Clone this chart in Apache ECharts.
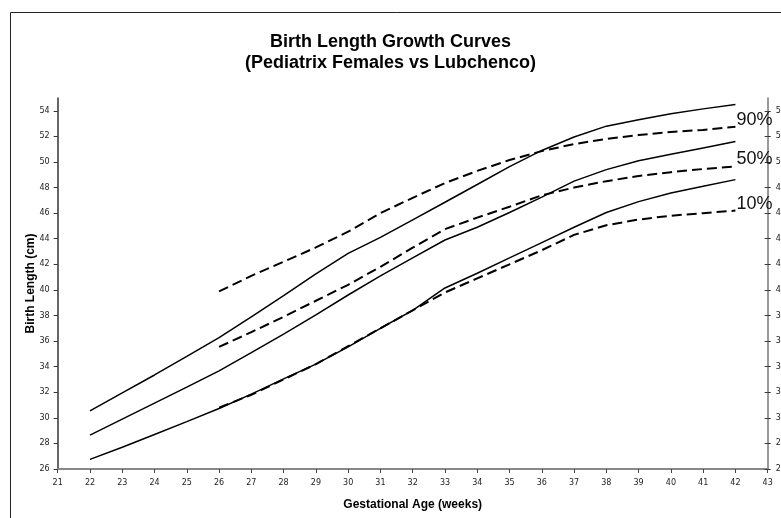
<!DOCTYPE html>
<html>
<head>
<meta charset="utf-8">
<script src="https://cdn.jsdelivr.net/npm/echarts@6/dist/echarts.min.js"></script>
<style>
html,body{margin:0;padding:0;background:#fff;overflow:hidden;}
#chart{width:781px;height:518px;}
</style>
</head>
<body>
<div id="chart"></div>
<script>
// Gestational weeks
const weeks = [22,23,24,25,26,27,28,29,30,31,32,33,34,35,36,37,38,39,40,41,42];
const lubWeeks = [26,27,28,29,30,31,32,33,34,35,36,37,38,39,40,41,42];

// Pediatrix females (solid)
const pedP10 = [26.75,27.7,28.7,29.7,30.73,31.85,33.05,34.2,35.55,37.0,38.4,40.15,41.3,42.5,43.7,44.9,46.05,46.9,47.58,48.1,48.62];
const pedP50 = [28.65,29.9,31.15,32.4,33.67,35.1,36.55,38.05,39.6,41.1,42.5,43.9,44.9,46.05,47.25,48.5,49.4,50.1,50.6,51.1,51.6];
const pedP90 = [30.55,31.95,33.35,34.8,36.27,37.9,39.55,41.25,42.85,44.1,45.47,46.85,48.24,49.64,50.9,51.95,52.8,53.3,53.77,54.15,54.5];

// Lubchenco (dashed)
const lubP10 = [30.8,31.8,33.0,34.2,35.6,37.0,38.4,39.8,40.9,42.0,43.1,44.3,45.05,45.5,45.8,46.0,46.2];
const lubP50 = [35.54,36.7,37.9,39.15,40.4,41.8,43.3,44.75,45.65,46.5,47.4,48.0,48.5,48.9,49.2,49.45,49.65];
const lubP90 = [39.88,41.1,42.2,43.32,44.55,46.0,47.2,48.35,49.3,50.15,50.85,51.4,51.8,52.1,52.35,52.5,52.75];

// Axis ticks
const yTicks = [26,28,30,32,34,36,38,40,42,44,46,48,50,52,54];
const pctLabels = ['10%','50%','90%'];

const titleText = 'Birth Length Growth Curves\n(Pediatrix Females vs Lubchenco)';
const xName = 'Gestational Age (weeks)';
const yName = 'Birth Length (cm)';

function zip(xs, ys){ return xs.map((x,i)=>[x, ys[i]]); }

const chart = echarts.init(document.getElementById('chart'), null, {renderer:'canvas'});

const solidStyle = {color:'#000', width:1.5, type:'solid'};
const dashStyle = {color:'#000', width:2, type:[10,5]};

function solidSeries(name, data){
  return {name, type:'line', data:zip(weeks,data), symbol:'none', smooth:false,
    lineStyle:solidStyle, itemStyle:{color:'#000'}, silent:true, z:3};
}
function dashSeries(name, data, lbl){
  return {name, type:'line', data:zip(lubWeeks,data), symbol:'none', smooth:false,
    lineStyle:dashStyle, itemStyle:{color:'#000'}, silent:true, z:3,
    endLabel:{show:true, formatter:lbl, color:'#111', fontSize:18,
      fontFamily:'Liberation Sans, Arial, sans-serif', distance:1, offset:[0,-7]}};
}

const tickFont = {fontFamily:'DejaVu Sans, Verdana, sans-serif', fontSize:8, color:'#222'};

chart.setOption({
  animation:false,
  backgroundColor:'#fff',
  title:{
    text:titleText, left:'center', top:27,
    textStyle:{fontFamily:'Liberation Sans, Arial, sans-serif', fontSize:18, fontWeight:'bold', color:'#000', lineHeight:21}
  },
  graphic:[{
    type:'rect', shape:{x:10.5, y:12.5, width:900, height:600},
    style:{fill:null, stroke:'#222', lineWidth:1}, silent:true, z:-1
  }],
  grid:{left:57.7, right:13.3, top:98, bottom:49, containLabel:false, outerBoundsMode:'none'},
  xAxis:{
    type:'value', min:21, max:43, interval:1,
    name:xName, nameLocation:'middle', nameGap:30,
    nameTextStyle:{fontFamily:'Liberation Sans, Arial, sans-serif', fontSize:12, fontWeight:'bold', color:'#000'},
    axisLine:{show:true, onZero:false, lineStyle:{color:'#888', width:2}},
    axisTick:{show:true, inside:false, length:4, lineStyle:{color:'#444', width:1}},
    axisLabel:Object.assign({margin:10}, tickFont),
    splitLine:{show:false}
  },
  yAxis:[{
    type:'value', min:26, max:55, position:'left',
    name:yName, nameLocation:'middle', nameGap:21, nameRotate:90, nameMoveOverlap:false,
    nameTextStyle:{fontFamily:'Liberation Sans, Arial, sans-serif', fontSize:12, fontWeight:'bold', color:'#000'},
    axisLine:{show:true, onZero:false, lineStyle:{color:'#333', width:1.5}},
    axisTick:{show:true, inside:false, length:4, customValues:yTicks, lineStyle:{color:'#333', width:1}},
    axisLabel:Object.assign({margin:8, customValues:yTicks}, tickFont),
    splitLine:{show:false}
  },{
    type:'value', min:26, max:55, position:'right',
    axisLine:{show:true, onZero:false, lineStyle:{color:'#777', width:1.5}},
    axisTick:{show:true, inside:false, length:3, customValues:yTicks, lineStyle:{color:'#333', width:1}},
    axisLabel:Object.assign({margin:8, customValues:yTicks, align:'left'}, tickFont),
    splitLine:{show:false}
  },{
    type:'value', min:26, max:55, position:'right',
    axisLine:{show:false},
    axisTick:{show:true, inside:true, length:3, customValues:yTicks, lineStyle:{color:'#333', width:1}},
    axisLabel:{show:false},
    splitLine:{show:false}
  }],
  series:[
    solidSeries('Pediatrix 10%', pedP10),
    solidSeries('Pediatrix 50%', pedP50),
    solidSeries('Pediatrix 90%', pedP90),
    dashSeries('Lubchenco 10%', lubP10, pctLabels[0]),
    dashSeries('Lubchenco 50%', lubP50, pctLabels[1]),
    dashSeries('Lubchenco 90%', lubP90, pctLabels[2])
  ]
});
</script>
</body>
</html>
